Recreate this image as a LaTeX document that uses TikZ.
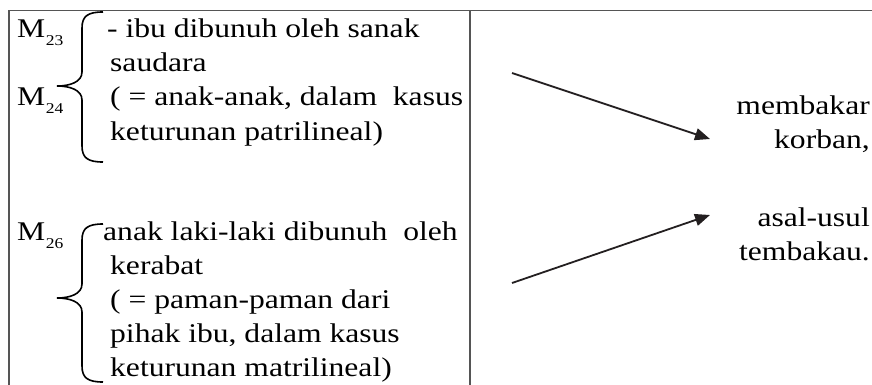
\documentclass[tikz,border=0pt]{standalone}
\usepackage{fontspec}
\setmainfont[FakeStretch=1.17]{Liberation Serif}
\usetikzlibrary{arrows.meta}
\definecolor{rule}{HTML}{555555}
\definecolor{ink}{HTML}{231F20}
\tikzset{
  txt/.style={anchor=base west, inner sep=0pt, font=\fontsize{27}{27}\selectfont},
  rtxt/.style={anchor=base east, inner sep=0pt, font=\fontsize{27}{27}\selectfont},
  frame/.style={draw=rule, line width=1.4pt},
  brace/.style={draw=black, line width=1.6pt},
  link/.style={draw=ink, line width=1.8pt, -{Triangle[length=15pt,width=12pt]}}
}
\newcommand{\msub}[1]{M\kern0.5pt\raisebox{-8pt}{\fontsize{15}{15}\selectfont #1}}
\begin{document}
\begin{tikzpicture}[x=1pt,y=-1pt]
\useasboundingbox (0,0) rectangle (872,385);
% table rules
\draw[frame] (9,385) -- (9,10.5) -- (872,10.5);
\draw[frame] (470,10.5) -- (470,385);
% first group
\node[txt] (m23) at (17,38) {\msub{23}};
\node[txt] (m24) at (17,106) {\msub{24}};
\draw[brace] (103,12) .. controls (88,12) and (82,16) .. (82,28) -- (82,72)
  .. controls (82,82) and (70,86) .. (57,86) .. controls (70,86) and (82,90) .. (82,100)
  -- (82,146) .. controls (82,158) and (88,162) .. (103,162);
\node[txt] (l1) at (107,38) {- ibu dibunuh oleh sanak};
\node[txt] (l2) at (110,72) {saudara};
\node[txt] (l3) at (110,106) {( = anak-anak, dalam\ \ kasus};
\node[txt] (l4) at (110,140) {keturunan patrilineal)};
% second group
\node[txt] (m26) at (17,240) {\msub{26}};
\draw[brace] (103,224) .. controls (88,224) and (82,228) .. (82,240) -- (82,284)
  .. controls (82,294) and (70,298) .. (57,298) .. controls (70,298) and (82,302) .. (82,312)
  -- (82,366) .. controls (82,378) and (88,382) .. (103,382);
\node[txt] (k1) at (103,240) {anak laki-laki dibunuh\ \ oleh};
\node[txt] (k2) at (110,274) {kerabat};
\node[txt] (k3) at (110,308) {( = paman-paman dari};
\node[txt] (k4) at (110,342) {pihak ibu, dalam kasus};
\node[txt] (k5) at (110,376) {keturunan matrilineal)};
% right column
\node[rtxt] (r1) at (870,115) {membakar};
\node[rtxt] (r2) at (870,148) {korban,};
\node[rtxt] (r3) at (870,226) {asal-usul};
\node[rtxt] (r4) at (870,260) {tembakau.};
% arrows
\coordinate (a1s) at (512,73);
\coordinate (a1e) at (710,139);
\coordinate (a2s) at (512,283);
\coordinate (a2e) at (710,215);
\draw[link] (a1s) -- (a1e);
\draw[link] (a2s) -- (a2e);
\end{tikzpicture}
\end{document}
